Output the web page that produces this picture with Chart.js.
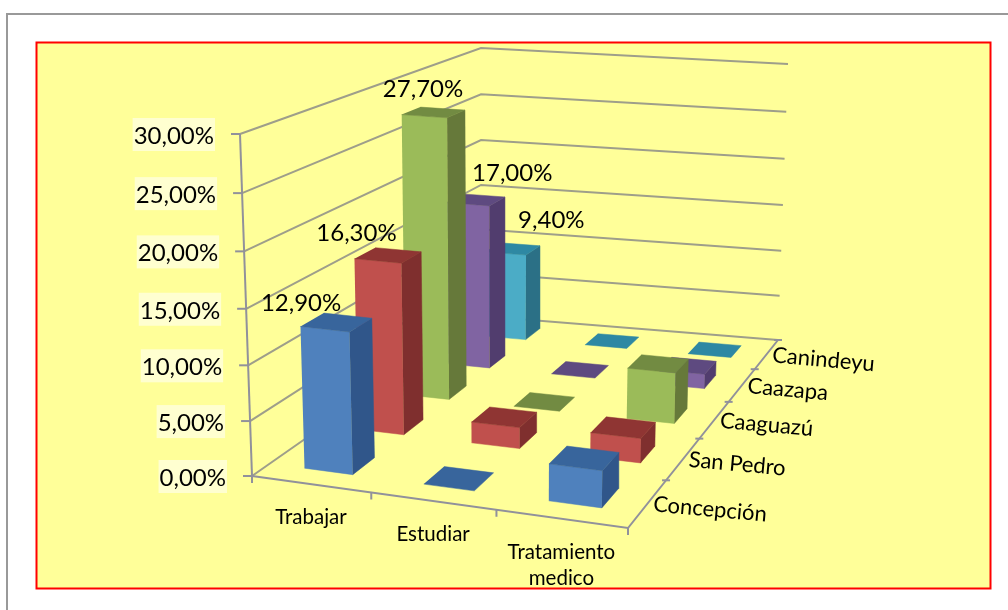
<!DOCTYPE html>
<html>
<head>
<meta charset="utf-8">
<title>Chart</title>
<script src="https://cdn.jsdelivr.net/npm/chart.js@4"></script>
<style>
  html, body { margin: 0; padding: 0; background: #fff; overflow: hidden; }
  canvas { display: block; }
</style>
</head>
<body>
<canvas id="chart3d" width="1008" height="610"></canvas>
<script>
// values, percent
const categories = ['Trabajar', 'Estudiar', 'Tratamiento medico'];
const seriesNames = ['Concepción', 'San Pedro', 'Caaguazú', 'Caazapa', 'Canindeyu'];
const concepcion = [12.9, 0, 3.3];
const sanPedro = [16.3, 2.0, 2.3];
const caaguazu = [27.7, 0, 5.0];
const caazapa = [17.0, 0, 1.5];
const canindeyu = [9.4, 0, 0];
const yTicks = [0, 5, 10, 15, 20, 25, 30];
const yTickLabels = ['0,00%', '5,00%', '10,00%', '15,00%', '20,00%', '25,00%', '30,00%'];
const trabajarLabels = ['12,90%', '16,30%', '27,70%', '17,00%', '9,40%'];

const seriesValues = [concepcion, sanPedro, caaguazu, caazapa, canindeyu];
const yMax = 30;

// colours per series: front, side, top
const seriesColors = [
    ['#4f81bd', '#30568a', '#38659c'],
    ['#c0504d', '#7f2f2e', '#8f3533'],
    ['#9bbb59', '#66793a', '#728b42'],
    ['#8064a2', '#513d6e', '#5e4a80'],
    ['#4bacc6', '#2b7086', '#2e88a3']
];
const gridColor = 'rgb(158,158,138)';
const axisColor = 'rgb(145,145,155)';

// box corners on screen: front left, front right, back right, back left
const floorQuad = [[252, 476], [628, 528], [778, 340], [481, 316]];
const topQuad = [[240, 134], [634, 168], [788, 64], [481, 48]];

const barStart = 0.3;
const barEnd = 0.71;
const heightBend = 0.045; // perspective along the value axis
const widthBend = 0.04;   // evens out the category spacing

// offset of the data labels from the top of their bar
const labelOffsets = [[-46, -5], [-41, -9], [-19, -12], [29, -14], [32, -16]];

function quadMap(q) {
    // unit square to quad
    const [p0, p1, p2, p3] = q;
    const dx1 = p1[0] - p2[0], dx2 = p3[0] - p2[0], sx = p0[0] - p1[0] + p2[0] - p3[0];
    const dy1 = p1[1] - p2[1], dy2 = p3[1] - p2[1], sy = p0[1] - p1[1] + p2[1] - p3[1];
    const den = dx1 * dy2 - dx2 * dy1;
    const g = (sx * dy2 - dx2 * sy) / den;
    const h = (dx1 * sy - sx * dy1) / den;
    const a = p1[0] - p0[0] + g * p1[0];
    const b = p3[0] - p0[0] + h * p3[0];
    const d = p1[1] - p0[1] + g * p1[1];
    const e = p3[1] - p0[1] + h * p3[1];
    return (u, v) => {
        const w = g * u + h * v + 1;
        return [(a * u + b * v + p0[0]) / w, (d * u + e * v + p0[1]) / w];
    };
}
const floorMap = quadMap(floorQuad);
const topMap = quadMap(topQuad);

// u along categories, v along series, val in percent
function project(u, v, val) {
    const r = val / yMax;
    const t = r / (1 + heightBend * (1 - r));
    const uu = u / (1 - widthBend * (1 - u));
    const f = floorMap(uu, v);
    const c = topMap(uu, v);
    return { x: f[0] + (c[0] - f[0]) * t, y: f[1] + (c[1] - f[1]) * t };
}

const datasets = [];

function addLine(points, color, width) {
    datasets.push({
        data: points, showLine: true, fill: false, pointRadius: 0,
        borderColor: color, borderWidth: width
    });
}

function addFace(points, color) {
    datasets.push({
        data: points, showLine: true, fill: 'shape', pointRadius: 0,
        backgroundColor: color, borderColor: color, borderWidth: 0.5
    });
}

function shift(p, dx, dy) {
    return { x: p.x + dx, y: p.y + dy };
}

// walls
yTicks.forEach(val => {
    const a = project(0, 0, val), b = project(0, 1, val), c = project(1, 1, val);
    addLine([a, b, c], gridColor, 2);
    addLine([shift(a, -9, 0), a], axisColor, 2);
});
addLine([project(0, 0, 0), project(0, 0, yMax)], axisColor, 2);

// floor axes
addLine([project(0, 0, 0), project(1, 0, 0), project(1, 1, 0)], axisColor, 2);
categories.forEach((c, i) => {
    const p = project((i + 1) / categories.length, 0, 0);
    addLine([p, shift(p, 0, 7)], axisColor, 2);
});
addLine([project(0, 0, 0), shift(project(0, 0, 0), 0, 7)], axisColor, 2);
seriesNames.forEach((s, i) => {
    const p = project(1, (i + 1) / seriesNames.length, 0);
    addLine([shift(p, -4, 0), shift(p, 4, 0)], axisColor, 2);
});

// bars, back row first
for (let s = seriesNames.length - 1; s >= 0; s--) {
    categories.forEach((c, i) => {
        const val = seriesValues[s][i];
        const u0 = (i + barStart) / categories.length, u1 = (i + barEnd) / categories.length;
        const v0 = (s + barStart) / seriesNames.length, v1 = (s + barEnd) / seriesNames.length;
        const colors = seriesColors[s];
        if (val > 0) {
            addFace([project(u0, v0, 0), project(u1, v0, 0), project(u1, v0, val), project(u0, v0, val)], colors[0]);
            addFace([project(u1, v0, 0), project(u1, v1, 0), project(u1, v1, val), project(u1, v0, val)], colors[1]);
        }
        addFace([project(u0, v0, val), project(u1, v0, val), project(u1, v1, val), project(u0, v1, val)], colors[2]);
    });
}

// first dataset is painted last, so flip
datasets.reverse();

const frame = {
    id: 'frame',
    beforeDraw(chart) {
        const ctx = chart.ctx;
        ctx.save();
        ctx.fillStyle = '#fff';
        ctx.fillRect(0, 0, 1008, 610);
        ctx.strokeStyle = '#999';
        ctx.lineWidth = 2;
        ctx.beginPath();
        ctx.moveTo(7, 610);
        ctx.lineTo(7, 14);
        ctx.lineTo(1008, 14);
        ctx.stroke();
        ctx.fillStyle = '#ffff99';
        ctx.fillRect(36, 42, 955, 547);
        ctx.strokeStyle = '#ff0000';
        ctx.strokeRect(36.5, 42.5, 954, 546);

        // pale boxes behind the value axis labels
        ctx.font = '24px Lato';
        ctx.fillStyle = '#ffffd0';
        yTicks.forEach((val, i) => {
            const p = project(0, 0, val);
            const w = ctx.measureText(yTickLabels[i]).width;
            ctx.fillRect(p.x - 26 - w - 1, p.y - 16, w + 2, 33);
        });
        ctx.restore();
    },
    afterDatasetsDraw(chart) {
        const ctx = chart.ctx;
        ctx.save();
        ctx.fillStyle = '#000';

        ctx.font = '24px Lato';
        ctx.textAlign = 'right';
        yTicks.forEach((val, i) => {
            const p = project(0, 0, val);
            ctx.fillText(yTickLabels[i], p.x - 26, p.y + 10);
        });

        ctx.textAlign = 'center';
        trabajarLabels.forEach((txt, s) => {
            const v = (s + barEnd) / seriesNames.length;
            const p = project((0.5) / categories.length, v, seriesValues[s][0]);
            ctx.fillText(txt, p.x + labelOffsets[s][0], p.y + labelOffsets[s][1]);
        });

        ctx.font = '20.5px Lato';
        categories.forEach((c, i) => {
            const p = project((i + 0.5) / categories.length, 0, 0);
            const words = c.length > 12 ? c.split(' ') : [c];
            words.forEach((w, k) => ctx.fillText(w, p.x, p.y + 40 + k * 26));
        });

        ctx.font = '22px Lato';
        ctx.textAlign = 'left';
        seriesNames.forEach((name, s) => {
            const p = project(1, (s + 0.5) / seriesNames.length, 0);
            ctx.save();
            ctx.translate(p.x + 5, p.y + 8);
            ctx.rotate(0.09);
            ctx.fillText(name, 0, 0);
            ctx.restore();
        });
        ctx.restore();
    }
};

new Chart(document.getElementById('chart3d').getContext('2d'), {
    type: 'scatter',
    data: { datasets: datasets },
    options: {
        responsive: false,
        animation: false,
        layout: { padding: 0 },
        plugins: { legend: { display: false }, tooltip: { enabled: false } },
        scales: {
            x: { type: 'linear', display: false, min: 0, max: 1008 },
            y: { type: 'linear', display: false, min: 0, max: 610, reverse: true }
        }
    },
    plugins: [frame]
});
</script>
</body>
</html>
